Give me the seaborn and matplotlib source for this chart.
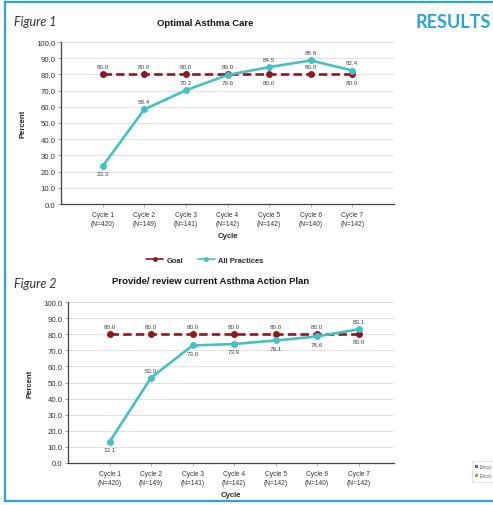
import matplotlib
matplotlib.use("Agg")
import matplotlib.pyplot as plt
from matplotlib.patches import Rectangle
from matplotlib.lines import Line2D
import seaborn as sns
import pandas as pd

sns.set_theme(style="white")
plt.rcParams["font.family"] = ["Liberation Sans", "DejaVu Sans"]

# ---- data ----
cycles = ["Cycle 1", "Cycle 2", "Cycle 3", "Cycle 4", "Cycle 5", "Cycle 6", "Cycle 7"]
sample_sizes = [420, 149, 141, 142, 142, 140, 142]
goal = [80.0, 80.0, 80.0, 80.0, 80.0, 80.0, 80.0]
optimal_care = [23.3, 58.4, 70.2, 79.6, 84.5, 88.6, 82.4]
action_plan = [13.1, 53.0, 73.0, 73.9, 76.1, 78.6, 83.1]

# label placement (+1 above the point, -1 below)
opt_goal_side = [1, 1, 1, 1, -1, 1, -1]
opt_side = [-1, 1, 1, -1, 1, 1, 1]
plan_goal_side = [1, 1, 1, 1, 1, 1, -1]
plan_side = [-1, 1, -1, -1, -1, -1, 1]

GOAL_C = "#8b1a1f"
TEAL_C = "#45c1c3"
BORDER_C = "#2ba3d5"
W, H = 493, 506

fig = plt.figure(figsize=(W / 100, H / 100), dpi=100)
fig.patch.set_facecolor("white")


def box(l, r, t, b):
    return [l / W, 1 - b / H, (r - l) / W, (b - t) / H]


def panel(rect, values, goal_side, val_side, xmax, ypad):
    ax = fig.add_axes(rect)
    df = pd.DataFrame({
        "idx": list(range(len(cycles))) * 2,
        "Percent": goal + values,
        "Series": ["Goal"] * len(cycles) + ["All Practices"] * len(cycles),
    })
    sns.lineplot(data=df, x="idx", y="Percent", hue="Series", style="Series",
                 palette={"Goal": GOAL_C, "All Practices": TEAL_C},
                 dashes={"Goal": (3.2, 1.6), "All Practices": ""},
                 markers={"Goal": "o", "All Practices": "o"},
                 markersize=5.0, markeredgewidth=0, linewidth=1.9,
                 legend=False, ax=ax, zorder=3)
    ax.set_xlim(-1, xmax)
    ax.set_ylim(0, 100)
    ax.set_yticks(range(0, 101, 10))
    ax.set_yticklabels([f"{v:.1f}" for v in range(0, 101, 10)], fontsize=5.6, color="#333333")
    ax.set_xticks(range(len(cycles)))
    ax.set_xticklabels([f"{c}\n(N={n})" for c, n in zip(cycles, sample_sizes)],
                       fontsize=4.8, color="#333333", linespacing=1.45)
    ax.grid(axis="y", color="#e2e2e2", linewidth=0.8)
    ax.set_axisbelow(True)
    for s in ("top", "right"):
        ax.spines[s].set_visible(False)
    for s in ("left", "bottom"):
        ax.spines[s].set_color("#444444")
        ax.spines[s].set_linewidth(0.9)
    ax.tick_params(axis="y", length=2.5, width=0.6, color="#888888", pad=1.5, left=True)
    ax.tick_params(axis="x", length=2, width=0.6, color="#aaaaaa", pad=3, bottom=True)
    ax.set_xlabel("Cycle", fontsize=5.6, fontweight="bold", labelpad=3.5)
    ax.set_ylabel("Percent", fontsize=5.6, fontweight="bold", labelpad=ypad)
    for i, (g, v) in enumerate(zip(goal, values)):
        ax.annotate(f"{g:.1f}", (i, g), xytext=(0, 5.5 * goal_side[i]), textcoords="offset points",
                    ha="center", va="center", fontsize=4.5, color="#444444")
        ax.annotate(f"{v:.1f}", (i, v), xytext=(0, 5.5 * val_side[i]), textcoords="offset points",
                    ha="center", va="center", fontsize=4.5, color="#444444")
    return ax


ax1 = panel(box(61, 394, 43, 205), optimal_care, opt_goal_side, opt_side, 7.0, 7)
ax2 = panel(box(68, 394, 303, 464), action_plan, plan_goal_side, plan_side, 6.85, 7)

# legend between the two panels
handles = [
    Line2D([], [], color=GOAL_C, marker="o", markersize=3.5, linewidth=1.2, markeredgewidth=0),
    Line2D([], [], color=TEAL_C, marker="o", markersize=3.5, linewidth=1.2, markeredgewidth=0),
]
fig.legend(handles, ["Goal", "All Practices"], loc="center", bbox_to_anchor=(205 / W, 1 - 261 / H),
           ncol=2, frameon=False, handlelength=2.2, columnspacing=2.0,
           handletextpad=0.5, prop={"weight": "bold", "size": 5.4})

# headings
fig.text(14 / W, 1 - 22 / H, "Figure 1", fontsize=9, style="italic", family="Lato",
         color="#333333", va="center", ha="left")
fig.text(14 / W, 1 - 284 / H, "Figure 2", fontsize=9, style="italic", family="Lato",
         color="#333333", va="center", ha="left")
fig.text(205 / W, 1 - 23 / H, "Optimal Asthma Care", fontsize=6.8, fontweight="bold",
         color="#111111", va="center", ha="center")
fig.text(211 / W, 1 - 282 / H, "Provide/ review current Asthma Action Plan", fontsize=6.8,
         fontweight="bold", color="#111111", va="center", ha="center")
fig.text(491 / W, 1 - 22 / H, "RESULTS", fontsize=13, fontweight="bold", family="Lato",
         color=BORDER_C, va="center", ha="right")

# page frame
fig.add_artist(Line2D([5 / W, 5 / W], [1 - 3 / H, 1 - 502 / H], color=BORDER_C, linewidth=1.6))
fig.add_artist(Line2D([5 / W, 1], [1 - 3 / H, 1 - 3 / H], color=BORDER_C, linewidth=1.6))
fig.add_artist(Line2D([5 / W, 1], [1 - 502 / H, 1 - 502 / H], color=BORDER_C, linewidth=1.6))

# neighbouring legend at the right edge
fig.add_artist(Rectangle((472 / W, 1 - 483 / H), 30 / W, 21 / H, transform=fig.transFigure,
                         facecolor="white", edgecolor="#dddddd", linewidth=0.6))
fig.add_artist(Rectangle((475 / W, 1 - 469 / H), 3 / W, 3 / H, transform=fig.transFigure,
                         facecolor="#4a6fa5", edgecolor="none"))
fig.add_artist(Rectangle((475 / W, 1 - 478 / H), 3 / W, 3 / H, transform=fig.transFigure,
                         facecolor="#e08a3c", edgecolor="none"))
fig.text(479.5 / W, 1 - 467.5 / H, "Enco", fontsize=3.8, color="#555555", va="center")
fig.text(479.5 / W, 1 - 476.5 / H, "Enco", fontsize=3.8, color="#555555", va="center")

fig.savefig("out.png", dpi=100, facecolor="white")
